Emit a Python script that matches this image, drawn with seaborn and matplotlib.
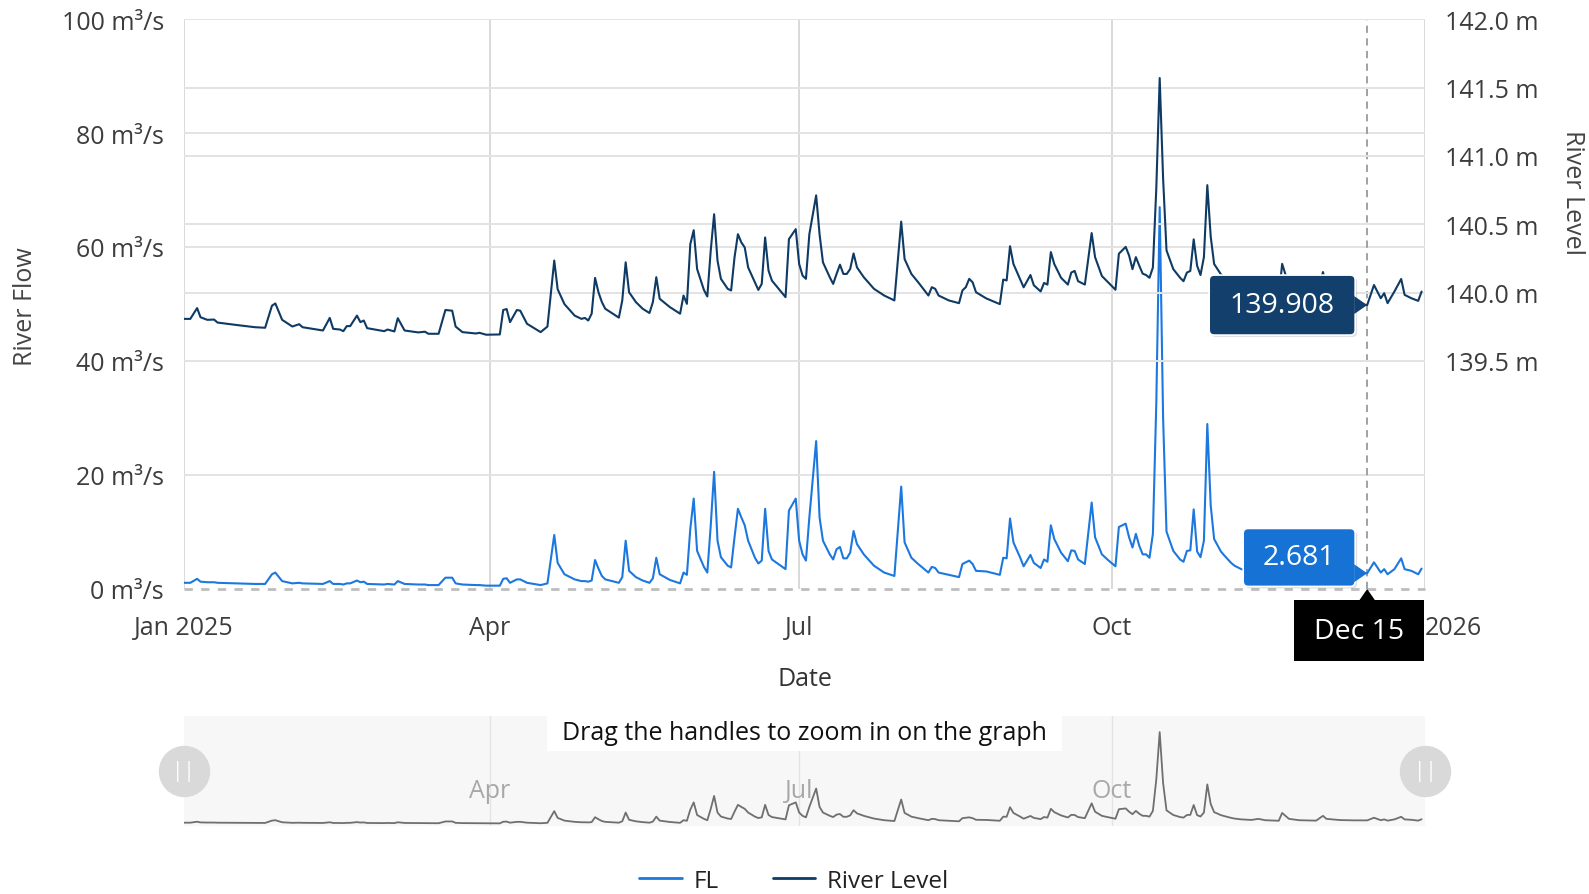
import matplotlib

matplotlib.use("Agg")
import matplotlib.pyplot as plt
import matplotlib.dates as mdates
import matplotlib.transforms as mtransforms
from matplotlib.patches import FancyBboxPatch, Polygon, Rectangle
from matplotlib.lines import Line2D
import pandas as pd
import seaborn as sns

# -------------------------
# Data
# -------------------------

dates = [
    "2025-01-01", "2025-01-03", "2025-01-05", "2025-01-06", "2025-01-08", "2025-01-10", "2025-01-11",
    "2025-01-17", "2025-01-22", "2025-01-25", "2025-01-27", "2025-01-28", "2025-01-30",
    "2025-02-02", "2025-02-04", "2025-02-05", "2025-02-11", "2025-02-13", "2025-02-14", "2025-02-16",
    "2025-02-17", "2025-02-18", "2025-02-19", "2025-02-21", "2025-02-22", "2025-02-23", "2025-02-24",
    "2025-03-01", "2025-03-02", "2025-03-04", "2025-03-05", "2025-03-07", "2025-03-11", "2025-03-13",
    "2025-03-14", "2025-03-17", "2025-03-19", "2025-03-21", "2025-03-22", "2025-03-24", "2025-03-28",
    "2025-03-29", "2025-03-31",
    "2025-04-04", "2025-04-05", "2025-04-06", "2025-04-07", "2025-04-09", "2025-04-10", "2025-04-12",
    "2025-04-16", "2025-04-18", "2025-04-20", "2025-04-21", "2025-04-23", "2025-04-26", "2025-04-28",
    "2025-04-29", "2025-04-30",
    "2025-05-01", "2025-05-02", "2025-05-03", "2025-05-04", "2025-05-05", "2025-05-09", "2025-05-10",
    "2025-05-11", "2025-05-12", "2025-05-14", "2025-05-16", "2025-05-18", "2025-05-19", "2025-05-20",
    "2025-05-21", "2025-05-24", "2025-05-27", "2025-05-28", "2025-05-29", "2025-05-30", "2025-05-31",
    "2025-06-01", "2025-06-03", "2025-06-04", "2025-06-05", "2025-06-06", "2025-06-07", "2025-06-08",
    "2025-06-10", "2025-06-11", "2025-06-12", "2025-06-13", "2025-06-14", "2025-06-15", "2025-06-16",
    "2025-06-18", "2025-06-19", "2025-06-20", "2025-06-21", "2025-06-22", "2025-06-23", "2025-06-27",
    "2025-06-28", "2025-06-30",
    "2025-07-01", "2025-07-02", "2025-07-03", "2025-07-04", "2025-07-06", "2025-07-07", "2025-07-08",
    "2025-07-10", "2025-07-11", "2025-07-12", "2025-07-13", "2025-07-14", "2025-07-15", "2025-07-16",
    "2025-07-17", "2025-07-18", "2025-07-20", "2025-07-23", "2025-07-26", "2025-07-29", "2025-07-31",
    "2025-08-01", "2025-08-03", "2025-08-05", "2025-08-08", "2025-08-09", "2025-08-10", "2025-08-11",
    "2025-08-14", "2025-08-17", "2025-08-18", "2025-08-19", "2025-08-20", "2025-08-21", "2025-08-22",
    "2025-08-25", "2025-08-29", "2025-08-30", "2025-08-31",
    "2025-09-01", "2025-09-02", "2025-09-04", "2025-09-05", "2025-09-07", "2025-09-08", "2025-09-10",
    "2025-09-11", "2025-09-12", "2025-09-13", "2025-09-14", "2025-09-16", "2025-09-18", "2025-09-19",
    "2025-09-20", "2025-09-21", "2025-09-23", "2025-09-25", "2025-09-26", "2025-09-28", "2025-09-30",
    "2025-10-02", "2025-10-03", "2025-10-05", "2025-10-06", "2025-10-07", "2025-10-08", "2025-10-09",
    "2025-10-10", "2025-10-11", "2025-10-12", "2025-10-13", "2025-10-14", "2025-10-15", "2025-10-16",
    "2025-10-17", "2025-10-19", "2025-10-21", "2025-10-22", "2025-10-23", "2025-10-24", "2025-10-25",
    "2025-10-26", "2025-10-27", "2025-10-28", "2025-10-29", "2025-10-30", "2025-10-31",
    "2025-11-02", "2025-11-03", "2025-11-05", "2025-11-06", "2025-11-08", "2025-11-11", "2025-11-13",
    "2025-11-15", "2025-11-19", "2025-11-20", "2025-11-22", "2025-11-25", "2025-11-30",
    "2025-12-02", "2025-12-03", "2025-12-07", "2025-12-11", "2025-12-15", "2025-12-17", "2025-12-19",
    "2025-12-20", "2025-12-21", "2025-12-23", "2025-12-25", "2025-12-26", "2025-12-28", "2025-12-30",
    "2025-12-31",
]

# river level, metres
river_level = [
    139.807, 139.807, 139.886, 139.819, 139.800, 139.802, 139.780, 139.761, 139.746, 139.742, 139.903, 139.920, 139.800,
    139.751, 139.768, 139.746, 139.722, 139.814, 139.734, 139.729, 139.717, 139.754, 139.754, 139.831, 139.783, 139.795, 139.739,
    139.717, 139.729, 139.715, 139.812, 139.722, 139.708, 139.713, 139.698, 139.698, 139.872, 139.867, 139.751, 139.710, 139.700,
    139.705, 139.691,
    139.693, 139.872, 139.879, 139.783, 139.872, 139.867, 139.771, 139.710, 139.751, 140.234, 140.024, 139.915, 139.831, 139.807,
    139.814, 139.795,
    139.845, 140.107, 140.002, 139.930, 139.881, 139.816, 139.942, 140.221, 140.002, 139.930, 139.881, 139.850, 139.930, 140.112,
    139.954, 139.893, 139.845, 139.978, 139.917, 140.354, 140.456,
    140.172, 140.019, 139.971, 140.306, 140.573, 140.233, 140.100, 140.027, 140.015, 140.257, 140.427, 140.367, 140.330, 140.184,
    140.075, 140.019, 140.063, 140.403, 140.160, 140.087, 139.966, 140.391, 140.464,
    140.209, 140.124, 140.100, 140.427, 140.711, 140.427, 140.221, 140.112, 140.063, 140.136, 140.204, 140.136, 140.136, 140.172,
    140.286, 140.184, 140.112, 140.027, 139.978, 139.942, 140.519,
    140.245, 140.136, 140.075, 139.978, 140.039, 140.027, 139.978, 139.942, 139.922, 140.015, 140.039, 140.100, 140.075, 140.002,
    139.957, 139.915, 140.095, 140.088,
    140.339, 140.209, 140.095, 140.038, 140.128, 140.053, 140.008, 140.070, 140.058, 140.296, 140.209, 140.108, 140.058, 140.146,
    140.158, 140.083, 140.058, 140.435, 140.259, 140.121, 140.070,
    140.020, 140.284, 140.334, 140.271, 140.171, 140.259, 140.196, 140.138, 140.128, 140.108, 140.183, 140.761, 141.570, 140.837,
    140.309, 140.171, 140.108, 140.083, 140.146, 140.158, 140.389, 140.196, 140.128, 140.259, 140.786, 140.410, 140.209,
    140.133, 140.110, 140.088, 140.075, 140.063, 140.030, 140.070, 140.000, 139.960, 140.210, 140.050, 139.980, 139.950,
    140.150, 140.050, 139.960, 139.920, 139.908, 140.055, 139.958, 139.995, 139.922, 140.007, 140.099, 139.983, 139.958, 139.939,
    140.007,
]

# river flow (FL), m3/s
flow = [
    1.0, 1.0, 1.7, 1.2, 1.1, 1.1, 1.0, 0.9, 0.8, 0.8, 2.5, 2.8, 1.3,
    0.9, 1.0, 0.9, 0.8, 1.3, 0.8, 0.8, 0.7, 0.9, 0.9, 1.4, 1.1, 1.2, 0.8,
    0.7, 0.8, 0.7, 1.3, 0.8, 0.7, 0.7, 0.6, 0.6, 1.9, 1.9, 0.9, 0.7, 0.6,
    0.6, 0.5,
    0.5, 1.7, 1.8, 1.0, 1.6, 1.6, 1.0, 0.6, 0.9, 9.4, 4.5, 2.5, 1.6, 1.3,
    1.3, 1.2,
    1.4, 5.0, 3.5, 2.2, 1.6, 1.0, 2.0, 8.4, 3.1, 2.0, 1.4, 1.0, 1.8, 5.4,
    2.5, 1.5, 0.9, 2.8, 2.4, 10.5, 15.8,
    6.6, 3.8, 2.8, 11.0, 20.5, 8.4, 5.5, 4.0, 3.7, 9.0, 14.0, 12.5, 11.1, 8.4,
    5.4, 4.4, 4.9, 14.0, 6.6, 5.1, 3.4, 13.7, 15.8,
    8.4, 6.0, 4.9, 12.5, 25.9, 12.5, 8.4, 6.0, 5.1, 6.9, 7.3, 5.3, 5.3, 6.3,
    10.1, 7.8, 6.0, 4.0, 2.8, 2.2, 17.9,
    8.1, 5.4, 4.3, 2.8, 3.8, 3.6, 2.8, 2.4, 2.0, 4.3, 4.6, 4.9, 4.3, 3.1,
    3.0, 2.4, 5.4, 5.3,
    12.3, 8.1, 5.4, 3.9, 5.9, 4.5, 3.6, 5.1, 4.7, 11.1, 8.7, 6.3, 4.8, 6.7,
    6.6, 5.1, 4.3, 15.1, 9.0, 6.0, 4.9,
    3.9, 10.8, 11.4, 9.0, 7.2, 9.6, 7.5, 6.0, 6.0, 5.4, 9.6, 32.5, 67.0, 30.0,
    10.0, 6.6, 5.1, 4.7, 6.6, 6.7, 13.9, 6.5, 5.5, 8.4, 28.9, 14.6, 8.7,
    6.5, 5.8, 4.5, 4.0, 3.4, 3.0, 3.8, 2.8, 2.4, 8.1, 3.8, 2.8, 2.5,
    6.0, 3.8, 2.9, 2.7, 2.681, 4.6, 2.8, 3.4, 2.5, 3.4, 5.3, 3.4, 3.1, 2.5,
    3.5,
]

quarter_ticks = ["2025-01-01", "2025-04-01", "2025-07-01", "2025-10-01", "2026-01-01"]
quarter_labels = ["Jan 2025", "Apr", "Jul", "Oct", "2026"]
flow_ticks = [0, 20, 40, 60, 80, 100]
level_ticks = [139.5, 140.0, 140.5, 141.0, 141.5, 142.0]
hover_date = "2025-12-15"

assert len(dates) == len(river_level) == len(flow)

# -------------------------
# Setup
# -------------------------

sns.set_theme(style="white")
plt.rcParams["font.family"] = ["Open Sans", "DejaVu Sans"]

FL_COLOR = "#1c78de"
LEVEL_COLOR = "#0e3a63"
GRID = "#e3e3e3"
VGRID = "#d3d3d3"
TICK_COLOR = "#3d3d3d"
FS = 18

df = pd.DataFrame({"date": pd.to_datetime(dates), "level": river_level, "flow": flow})
qt = pd.to_datetime(quarter_ticks)
hover_ts = pd.Timestamp(hover_date)

W, H = 1589, 895
fig = plt.figure(figsize=(W / 100, H / 100), dpi=100)
fig.patch.set_facecolor("white")


def px_box(left, top, width, height):
    return [left / W, 1 - (top + height) / H, width / W, height / H]


ax = fig.add_axes(px_box(183.5, 20.3, 1241.5, 569.2))
ax2 = ax.twinx()
nav = fig.add_axes(px_box(183.5, 716.7, 1241.5, 110))

# -------------------------
# Main chart
# -------------------------

sns.lineplot(data=df, x="date", y="flow", ax=ax, color=FL_COLOR, lw=1.5)
sns.lineplot(data=df, x="date", y="level", ax=ax2, color=LEVEL_COLOR, lw=1.5)

ax.set_xlim(qt[0], qt[-1])
ax.set_ylim(0, 100)
ax2.set_ylim(137.8333, 142.0)

ax.set_xticks(qt)
ax.set_xticklabels(quarter_labels)
ax.set_yticks(flow_ticks)
ax.set_yticklabels([f"{v} m³/s" for v in flow_ticks])
ax2.set_yticks(level_ticks)
ax2.set_yticklabels([f"{v:.1f} m" for v in level_ticks])

ax.tick_params(axis="x", length=0, pad=19, labelsize=FS, labelcolor=TICK_COLOR)
ax.tick_params(axis="y", length=0, pad=14, labelsize=FS, labelcolor=TICK_COLOR)
ax2.tick_params(axis="y", length=0, pad=14.5, labelsize=FS, labelcolor=TICK_COLOR)
# last date label sits to the right of its tick
ax.get_xticklabels()[-1].set_ha("left")

ax.grid(axis="y", color=GRID, lw=1.4)
ax.grid(axis="x", color=VGRID, lw=1.2)
ax2.grid(axis="y", color=GRID, lw=1.4)
ax.yaxis.get_gridlines()[0].set_visible(False)
ax.set_axisbelow(True)
ax2.set_axisbelow(True)
for a in (ax, ax2):
    for s in a.spines.values():
        s.set_visible(False)

# dashed zero line and crosshair
ax.axhline(0, color="#bdbdbd", lw=2, ls=(0, (3, 3)), clip_on=False, zorder=1)
ax.axvline(hover_ts, color="#9a9a9a", lw=1.3, ls=(0, (4, 3)), zorder=1)

ax.set_xlabel("Date", fontsize=FS, color="#333333")
ax.xaxis.set_label_coords((805 - 183.5) / 1241.5, (589.5 - 679) / 569.2)
ax.xaxis.label.set_va("center")
ax.set_ylabel("River Flow", fontsize=FS, color="#444444")
ax.yaxis.set_label_coords(-0.1274, 0.4963)
ax.yaxis.label.set_va("center")
ax2.set_ylabel("River Level", fontsize=FS, color="#444444", rotation=-90)
ax2.yaxis.set_label_coords(1.1192, 0.6973)
ax2.yaxis.label.set_va("center")

# -------------------------
# Navigator
# -------------------------

nav.set_facecolor("#f7f7f7")
sns.lineplot(data=df, x="date", y="flow", ax=nav, color="#6f6f6f", lw=1.3)
nav.set_xlim(qt[0], qt[-1])
nav.set_ylim(-1.2, 79)
nav.set_xticks([])
nav.set_yticks([])
nav.set_xlabel("")
nav.set_ylabel("")
for s in nav.spines.values():
    s.set_visible(False)

blend = mtransforms.blended_transform_factory(nav.transData, nav.transAxes)
for d, lab in zip(qt[1:4], quarter_labels[1:4]):
    nav.axvline(d, color="#e4e4e4", lw=1, zorder=0)
    nav.text(d, 0.318, lab, transform=blend, ha="center", va="center", fontsize=FS, color="#a8a8a8")

nav.add_patch(Rectangle((0.5 - 0.2076, 0.682), 0.4152, 0.318, transform=nav.transAxes,
                        fc="white", ec="none", zorder=3))
nav.text(0.5, 0.843, "Drag the handles to zoom in on the graph", transform=nav.transAxes,
         ha="center", va="center", fontsize=FS, color="#111111", zorder=4)

for d in (qt[0], qt[-1]):
    nav.plot([d], [0.5], marker="o", markersize=36, color="#d9d9d9", transform=blend,
             clip_on=False, zorder=5)
    nav.text(d, 0.5, "||", transform=blend, ha="center", va="center", fontsize=15,
             color="white", clip_on=False, zorder=6)

# -------------------------
# Tooltips (anchored on the hovered point)
# -------------------------

ident = mtransforms.IdentityTransform()
row = df[df["date"] == hover_ts].iloc[0]
hx = mdates.date2num(hover_ts)
tip_level = ax2.transData.transform((hx, row["level"]))
tip_flow = ax.transData.transform((hx, row["flow"]))


def callout(tip, width, height, shift, face, label):
    tx, ty = tip
    right = tx - 12
    cy = ty + shift
    shadow = FancyBboxPatch((right - width + 2, cy - height / 2 - 2), width, height,
                            boxstyle="round,pad=0,rounding_size=5", transform=ident,
                            fc="black", ec="none", alpha=0.12)
    body = FancyBboxPatch((right - width, cy - height / 2), width, height,
                          boxstyle="round,pad=0,rounding_size=5", transform=ident,
                          fc=face, ec="white", lw=1.2)
    pointer = Polygon([(right - 1, ty + 9), (tx, ty), (right - 1, ty - 9)], closed=True,
                      transform=ident, fc=face, ec="none")
    for p in (shadow, body, pointer):
        fig.add_artist(p)
    fig.text(right - width / 2, cy, label, transform=ident, ha="center", va="center",
             fontsize=20.5, color="white")


callout(tip_level, 146, 60, 0, "#123f6b", f"{row['level']:.3f}")
callout(tip_flow, 112, 58, 15.8, "#1672d4", f"{row['flow']:.3f}")

# date label under the crosshair
tx = tip_flow[0]
bottom_px = ax.transAxes.transform((0, 0))[1]
fig.add_artist(Rectangle((tx - 73, bottom_px - 72.2), 130, 60.3, transform=ident,
                         fc="black", ec="none"))
fig.add_artist(Polygon([(tx - 8, bottom_px - 12), (tx, bottom_px - 0.5), (tx + 8, bottom_px - 12)],
                       closed=True, transform=ident, fc="black", ec="none"))
fig.text(tx - 8, bottom_px - 42.2, hover_ts.strftime("%b %d"), transform=ident,
         ha="center", va="center", fontsize=20.5, color="white")

# -------------------------
# Legend
# -------------------------

handles = [Line2D([], [], color=FL_COLOR, lw=2), Line2D([], [], color=LEVEL_COLOR, lw=2)]
fig.legend(handles, ["FL", "River Level"], loc="center", bbox_to_anchor=(794 / W, 1 - 882 / H),
           ncol=2, frameon=False, fontsize=17.5, handlelength=1.75, handletextpad=0.5,
           columnspacing=2.2, labelcolor="#222222")

fig.savefig("out.png", dpi=100)
plt.close(fig)
